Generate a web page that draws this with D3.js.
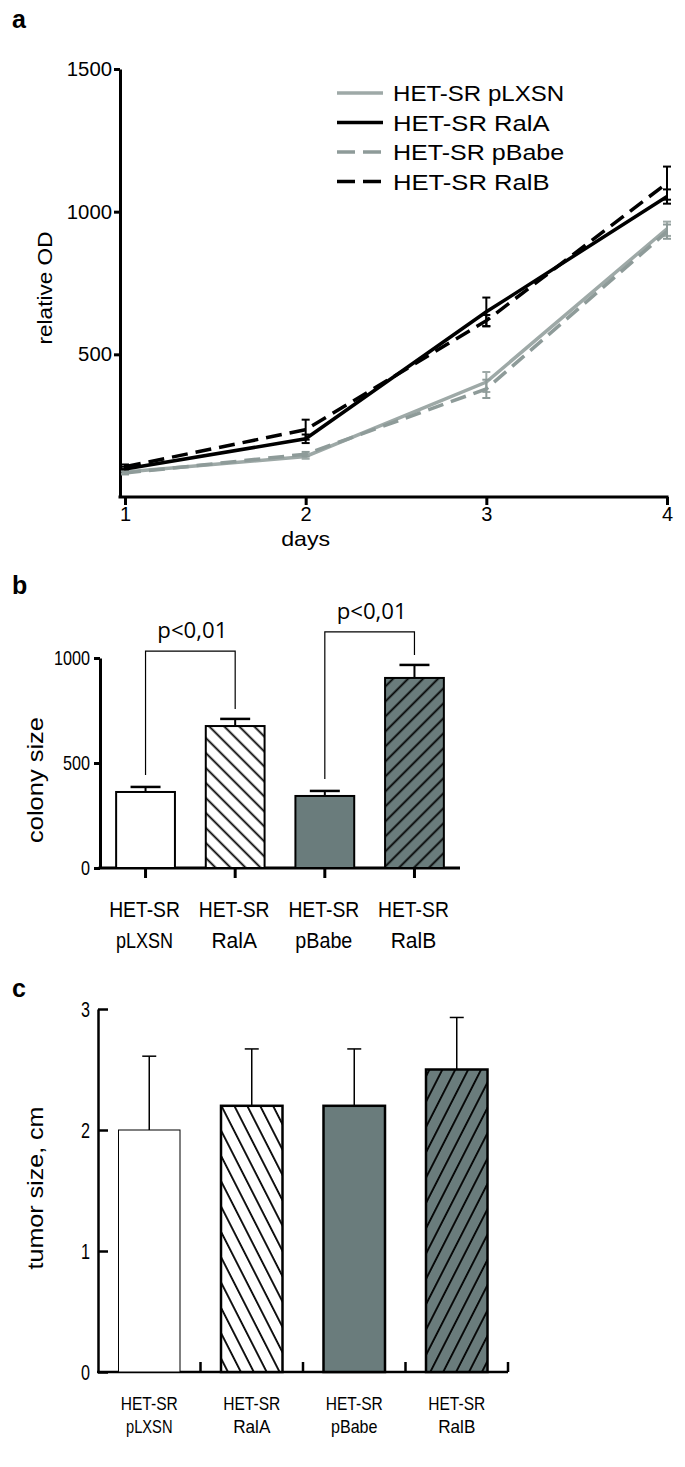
<!DOCTYPE html>
<html><head><meta charset="utf-8">
<script src="https://cdn.jsdelivr.net/npm/d3@7"></script>
<style>
body{margin:0;background:#fff;}
svg{display:block;}
.ar{font-family:"Liberation Sans",Arial,sans-serif;}
.os{font-family:"Open Sans","Noto Sans",sans-serif;}
</style></head>
<body>
<script>
// ---------- DATA ----------
const days = [1, 2, 3, 4];
const seriesNames = ["HET-SR pLXSN", "HET-SR RalA", "HET-SR pBabe", "HET-SR RalB"];
const odPLXSN = [88, 142, 403, 940];
const odPLXSNerr = [6, 8, 35, 25];
const odRalA = [98, 204, 649, 1053];
const odRalAerr = [8, 15, 50, 25];
const odPBabe = [84, 150, 379, 930];
const odPBabeerr = [5, 8, 32, 25];
const odRalB = [106, 236, 618, 1100];
const odRalBerr = [8, 35, 20, 58];
const odTicks = [500, 1000, 1500];

const groups = ["pLXSN", "RalA", "pBabe", "RalB"];
const colonySize = [362, 676, 343, 905];
const colonyErr = [24, 34, 24, 62];
const colonyTicks = [0, 500, 1000];
const pLabel = "p<0,01";

const tumorSize = [2.0, 2.2, 2.2, 2.5];
const tumorErr = [0.61, 0.47, 0.47, 0.43];
const tumorTicks = [0, 1, 2, 3];

// ---------- STYLE ----------
const lightGray = "#9ea9a7", midGray = "#8e9b99", fillGray = "#6a7c7c";
const W = 685, H = 1467;
const svg = d3.select("body").append("svg").attr("width", W).attr("height", H);
svg.append("rect").attr("width", W).attr("height", H).attr("fill", "#fff");

const defs = svg.append("defs");
function hatch(id, angle, spacing, bg, sw) {
  const p = defs.append("pattern").attr("id", id).attr("patternUnits", "userSpaceOnUse")
    .attr("width", spacing).attr("height", 20).attr("patternTransform", `rotate(${angle})`);
  p.append("rect").attr("width", spacing).attr("height", 20).attr("fill", bg);
  p.append("line").attr("x1", spacing / 2).attr("x2", spacing / 2).attr("y1", 0).attr("y2", 20)
    .attr("stroke", "#000").attr("stroke-width", sw);
}
hatch("hbBack", -45, 10.6, "#fff", 1.8);
hatch("hbFwd", 45, 10.6, fillGray, 1.8);
hatch("hcBack", -27, 11.5, "#fff", 1.8);
hatch("hcFwd", 27, 11.5, fillGray, 1.8);

// condensed text helper (no narrow font installed): fixed width per character
function squeeze(sel, perChar) {
  sel.each(function () {
    const t = d3.select(this), s = t.text();
    t.attr("textLength", s.length * perChar).attr("lengthAdjust", "spacingAndGlyphs");
  });
}

// panel letters
[["a", 28], ["b", 594], ["c", 997]].forEach(([t, y]) => {
  svg.append("text").attr("class", "ar").attr("x", 12).attr("y", y).attr("font-size", 25)
    .attr("font-weight", "bold").text(t);
});

// ---------- PANEL A ----------
const xA = d3.scaleLinear().domain([1, 4]).range([125, 667]);
const yA = d3.scaleLinear().domain([0, 1500]).range([497, 69]);
const gA = svg.append("g");

const yAxA = gA.append("g").attr("transform", `translate(${xA(1) - 5},0)`)
  .call(d3.axisLeft(yA).tickValues(odTicks).tickSize(6).tickSizeOuter(0).tickPadding(2).tickFormat(d3.format("d")));
const xAxA = gA.append("g").attr("transform", `translate(0,${yA(0)})`)
  .call(d3.axisBottom(xA).tickValues(days).tickSize(8).tickSizeOuter(0).tickPadding(2).tickFormat(d3.format("d")));
[yAxA, xAxA].forEach(ax => {
  ax.selectAll("path,line").attr("stroke", "#000").attr("stroke-width", 3);
  ax.selectAll("text").attr("class", "ar").attr("font-size", 20).attr("fill", "#000");
});
squeeze(yAxA.selectAll("text"), 11.3);
xAxA.select(".domain").attr("d", `M${xA(1) - 6.5},0H${xA(4) + 1.5}`);

gA.append("text").attr("class", "ar").attr("font-size", 21)
  .attr("transform", `translate(52,${(yA(0) + yA(1500)) / 2 + 5}) rotate(-90)`)
  .attr("text-anchor", "middle").attr("textLength", 113).attr("lengthAdjust", "spacingAndGlyphs")
  .text("relative OD");
gA.append("text").attr("class", "ar").attr("font-size", 21).attr("x", xA(2)).attr("y", 546)
  .attr("text-anchor", "middle").attr("textLength", 49).attr("lengthAdjust", "spacingAndGlyphs").text("days");

const seriesA = [
  { name: seriesNames[0], v: odPLXSN, e: odPLXSNerr, color: lightGray, dash: null },
  { name: seriesNames[1], v: odRalA, e: odRalAerr, color: "#000", dash: null },
  { name: seriesNames[2], v: odPBabe, e: odPBabeerr, color: midGray, dash: "16,8" },
  { name: seriesNames[3], v: odRalB, e: odRalBerr, color: "#000", dash: "16,8" }
];
const lineA = d3.line().x((d, i) => xA(days[i])).y(d => yA(d));
seriesA.forEach(s => {
  const g = gA.append("g");
  s.v.forEach((v, i) => {
    const x = xA(days[i]);
    g.append("line").attr("x1", x).attr("x2", x).attr("y1", yA(v - s.e[i])).attr("y2", yA(v + s.e[i]))
      .attr("stroke", s.color).attr("stroke-width", 2);
    [v - s.e[i], v + s.e[i]].forEach(b => g.append("line").attr("x1", x - 4).attr("x2", x + 4)
      .attr("y1", yA(b)).attr("y2", yA(b)).attr("stroke", s.color).attr("stroke-width", 2));
  });
  g.append("path").attr("d", lineA(s.v)).attr("fill", "none").attr("stroke", s.color)
    .attr("stroke-width", 3.5).attr("stroke-dasharray", s.dash);
});
// legend
seriesA.forEach((s, i) => {
  const y = 93 + i * 29.5;
  gA.append("line").attr("x1", 337).attr("x2", 383).attr("y1", y).attr("y2", y)
    .attr("stroke", s.color).attr("stroke-width", 3.5).attr("stroke-dasharray", s.dash ? "18,8" : null);
  gA.append("text").attr("class", "ar").attr("font-size", 22.5).attr("x", 393).attr("y", y + 8)
    .attr("textLength", s.name.length * 14.6 - 4).attr("lengthAdjust", "spacingAndGlyphs").text(s.name);
});

// ---------- PANEL B ----------
const barFills = ["#fff", "url(#hbBack)", fillGray, "url(#hbFwd)"];
const xB = d3.scaleBand().domain(groups).range([100, 460]).paddingInner(0.344).paddingOuter(0.18);
const yB = d3.scaleLinear().domain([0, 1000]).range([868, 658]);
const gB = svg.append("g");
const yAxB = gB.append("g").attr("transform", `translate(${xB.range()[0]},0)`)
  .call(d3.axisLeft(yB).tickValues(colonyTicks).tickSize(6).tickSizeOuter(0).tickPadding(4).tickFormat(d3.format("d")));
const xAxB = gB.append("g").attr("transform", `translate(0,${yB(0)})`)
  .call(d3.axisBottom(xB).tickSize(10).tickSizeOuter(0).tickFormat(""));
[yAxB, xAxB].forEach(ax => {
  ax.selectAll("path,line").attr("stroke", "#000").attr("stroke-width", 3);
  ax.selectAll("text").attr("class", "ar").attr("font-size", 21).attr("fill", "#000");
});
squeeze(yAxB.selectAll("text"), 9);
xAxB.select(".domain").attr("d", `M${xB.range()[0] - 1.5},0H${xB.range()[1]}`);

gB.append("text").attr("class", "ar").attr("font-size", 22)
  .attr("transform", `translate(43,780) rotate(-90)`).attr("text-anchor", "middle")
  .attr("textLength", 126).attr("lengthAdjust", "spacingAndGlyphs").text("colony size");

groups.forEach((g, i) => {
  const x = xB(g), w = xB.bandwidth(), cx = x + w / 2;
  gB.append("line").attr("x1", cx).attr("x2", cx).attr("y1", yB(colonySize[i])).attr("y2", yB(colonySize[i] + colonyErr[i]))
    .attr("stroke", "#000").attr("stroke-width", 2);
  gB.append("line").attr("x1", cx - 15).attr("x2", cx + 15).attr("y1", yB(colonySize[i] + colonyErr[i])).attr("y2", yB(colonySize[i] + colonyErr[i]))
    .attr("stroke", "#000").attr("stroke-width", 2.5);
  gB.append("rect").attr("x", x).attr("y", yB(colonySize[i])).attr("width", w)
    .attr("height", yB(0) - yB(colonySize[i])).attr("fill", barFills[i]).attr("stroke", "#000").attr("stroke-width", 2);
  const t1 = gB.append("text").attr("class", "ar").attr("font-size", 21.5).attr("x", cx - 1).attr("y", 917)
    .attr("text-anchor", "middle").text("HET-SR");
  const t2 = gB.append("text").attr("class", "ar").attr("font-size", 21.5).attr("x", cx - 1).attr("y", 948)
    .attr("text-anchor", "middle").text(g);
  squeeze(t1, 11.8); squeeze(t2, 11.4);
});
// significance brackets
const brackets = [{ a: 0, b: 1, top: 1033 }, { a: 2, b: 3, top: 1124 }];
brackets.forEach(br => {
  const xa = xB(groups[br.a]) + xB.bandwidth() / 2, xb = xB(groups[br.b]) + xB.bandwidth() / 2;
  const ya = yB(colonySize[br.a] + colonyErr[br.a]) - 12, yb = yB(colonySize[br.b] + colonyErr[br.b]) - 10;
  const yt = yB(br.top);
  gB.append("path").attr("d", `M${xa},${ya}V${yt}H${xb}V${yb}`).attr("fill", "none")
    .attr("stroke", "#000").attr("stroke-width", 1.2);
  gB.append("text").attr("class", "os").attr("font-size", 21).attr("x", (xa + xb) / 2 + 2).attr("y", yt - 13)
    .attr("text-anchor", "middle").attr("textLength", 70).attr("lengthAdjust", "spacingAndGlyphs").text(pLabel);
});

// ---------- PANEL C ----------
const barFillsC = ["#fff", "url(#hcBack)", fillGray, "url(#hcFwd)"];
const xC = d3.scaleBand().domain(groups).range([98, 508]).paddingInner(0.4).paddingOuter(0.2);
const yC = d3.scaleLinear().domain([0, 3]).range([1372, 1009]);
const gC = svg.append("g");
const yAxC = gC.append("g").attr("transform", `translate(${xC.range()[0]},0)`)
  .call(d3.axisRight(yC).tickValues(tumorTicks).tickSize(10).tickSizeOuter(0).tickFormat(d3.format("d")));
yAxC.selectAll("path,line").attr("stroke", "#000").attr("stroke-width", 2.5);
yAxC.selectAll("text").attr("class", "ar").attr("font-size", 22).attr("fill", "#000")
  .attr("x", -8).attr("text-anchor", "end");
squeeze(yAxC.selectAll("text"), 9);
gC.append("line").attr("x1", xC.range()[0] - 1).attr("x2", xC.range()[1]).attr("y1", yC(0)).attr("y2", yC(0))
  .attr("stroke", "#000").attr("stroke-width", 2.5);
groups.forEach(g => {
  const tx = xC(g) + xC.bandwidth() + xC.step() * xC.paddingInner() / 2;
  gC.append("line").attr("x1", tx).attr("x2", tx).attr("y1", yC(0)).attr("y2", yC(0) - 10)
    .attr("stroke", "#000").attr("stroke-width", 2.5);
});
gC.append("text").attr("class", "ar").attr("font-size", 22)
  .attr("transform", `translate(43,1188) rotate(-90)`).attr("text-anchor", "middle")
  .attr("textLength", 163).attr("lengthAdjust", "spacingAndGlyphs").text("tumor size, cm");

groups.forEach((g, i) => {
  const x = xC(g), w = xC.bandwidth(), cx = x + w / 2;
  gC.append("line").attr("x1", cx).attr("x2", cx).attr("y1", yC(tumorSize[i])).attr("y2", yC(tumorSize[i] + tumorErr[i]))
    .attr("stroke", "#000").attr("stroke-width", 1.5);
  gC.append("line").attr("x1", cx - 7).attr("x2", cx + 7).attr("y1", yC(tumorSize[i] + tumorErr[i])).attr("y2", yC(tumorSize[i] + tumorErr[i]))
    .attr("stroke", "#000").attr("stroke-width", 1.5);
  gC.append("rect").attr("x", x).attr("y", yC(tumorSize[i])).attr("width", w)
    .attr("height", yC(0) - yC(tumorSize[i])).attr("fill", barFillsC[i]).attr("stroke", "#000")
    .attr("stroke-width", i === 0 ? 1 : 2.5);
  const t1 = gC.append("text").attr("class", "ar").attr("font-size", 18.5).attr("x", cx).attr("y", 1410)
    .attr("text-anchor", "middle").text("HET-SR");
  const t2 = gC.append("text").attr("class", "ar").attr("font-size", 18.5).attr("x", cx).attr("y", 1433)
    .attr("text-anchor", "middle").text(g);
  squeeze(t1, 9.5); squeeze(t2, 9.3);
});
</script>
</body></html>
